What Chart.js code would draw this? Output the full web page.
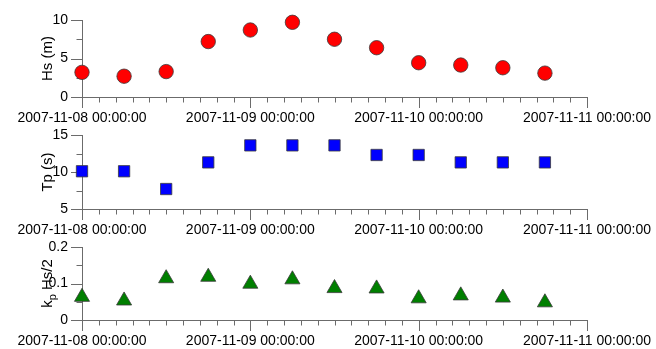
<!DOCTYPE html>
<html>
<head>
<meta charset="utf-8">
<script src="https://cdn.jsdelivr.net/npm/chart.js@4/dist/chart.umd.min.js"></script>
<style>
  html, body { margin: 0; padding: 0; background: #ffffff; }
  #wrap { position: relative; width: 656px; height: 349px; }
  #wrap canvas { position: absolute; left: 0; top: 0; }
</style>
</head>
<body>
<div id="wrap">
  <canvas id="cHs" width="656" height="349"></canvas>
  <canvas id="cTp" width="656" height="349"></canvas>
  <canvas id="cKp" width="656" height="349"></canvas>
</div>
<script>
// Six-hourly sea-state record, 8-10 November 2007
const times = [
  '2007-11-08 00:00:00', '2007-11-08 06:00:00', '2007-11-08 12:00:00', '2007-11-08 18:00:00',
  '2007-11-09 00:00:00', '2007-11-09 06:00:00', '2007-11-09 12:00:00', '2007-11-09 18:00:00',
  '2007-11-10 00:00:00', '2007-11-10 06:00:00', '2007-11-10 12:00:00', '2007-11-10 18:00:00'
];
const hsValues = [3.2, 2.7, 3.3, 7.2, 8.7, 9.7, 7.5, 6.4, 4.45, 4.15, 3.8, 3.1];
const tpValues = [10.1, 10.1, 7.7, 11.3, 13.6, 13.6, 13.6, 12.3, 12.3, 11.3, 11.3, 11.3];
const steepValues = [0.063, 0.053, 0.114, 0.118, 0.099, 0.111, 0.087, 0.086, 0.059, 0.067, 0.061, 0.048];
const dayLabels = ['2007-11-08 00:00:00', '2007-11-09 00:00:00', '2007-11-10 00:00:00', '2007-11-11 00:00:00'];
const hsTicks = ['0', '5', '10'];
const tpTicks = ['5', '10', '15'];
const steepTicks = ['0', '0.1', '0.2'];

const FONT = 'Liberation Sans, Arial, Helvetica, sans-serif';
const AXIS_COLOR = '#6b6b6b';
const t0 = Date.parse(times[0].replace(' ', 'T') + 'Z');
const dayOffset = s => (Date.parse(s.replace(' ', 'T') + 'Z') - t0) / 86400000;
const near = (a, b) => Math.abs(a - b) < 1e-6;

// Tick marks drawn outside the plot, long at labelled ticks and short otherwise
const outerTicks = {
  id: 'outerTicks',
  beforeDatasetsDraw(chart) {
    const ctx = chart.ctx;
    ctx.save();
    ctx.strokeStyle = AXIS_COLOR;
    ctx.lineWidth = 1;
    ['x', 'y'].forEach(id => {
      const sc = chart.scales[id];
      sc.ticks.forEach(t => {
        const major = t.label !== '' && t.label !== undefined;
        const len = major ? 11 : 5.5;
        const p = Math.round(sc.getPixelForValue(t.value)) + 0.5;
        ctx.beginPath();
        if (id === 'x') {
          const y = Math.round(sc.top);
          ctx.moveTo(p, y); ctx.lineTo(p, y + len);
        } else {
          const x = Math.round(sc.right);
          ctx.moveTo(x, p); ctx.lineTo(x - len, p);
        }
        ctx.stroke();
      });
    });
    ctx.restore();
  }
};

// Rotated axis title, with optional subscript part
const yTitle = {
  id: 'yTitle',
  afterDraw(chart, args, opts) {
    const ctx = chart.ctx;
    const a = chart.chartArea;
    ctx.save();
    ctx.translate(opts.x, (a.top + a.bottom) / 2);
    ctx.rotate(-Math.PI / 2);
    ctx.fillStyle = '#000';
    ctx.textBaseline = 'middle';
    const big = '15px ' + FONT, small = '11px ' + FONT;
    const parts = opts.parts;
    let total = 0;
    parts.forEach(p => { ctx.font = p.sub ? small : big; p.w = ctx.measureText(p.text).width; total += p.w; });
    let x = -total / 2;
    parts.forEach(p => {
      ctx.font = p.sub ? small : big;
      ctx.textAlign = 'left';
      ctx.fillText(p.text, x, p.sub ? 5 : 0);
      x += p.w;
    });
    ctx.restore();
  }
};

function makePanel(canvasId, values, yMin, yMax, yLabels, top, bottom, point, titleParts) {
  const xs = times.map(dayOffset);
  const step = (yMax - yMin) / 4;
  new Chart(document.getElementById(canvasId), {
    type: 'scatter',
    data: {
      datasets: [{
        data: xs.map((x, i) => ({ x, y: values[i] })),
        pointStyle: point.style,
        pointRadius: point.radius,
        pointHoverRadius: point.radius,
        backgroundColor: point.color,
        borderColor: '#3a3a3a',
        borderWidth: 0.8,
        clip: false
      }]
    },
    options: {
      responsive: false,
      animation: false,
      events: [],
      layout: { padding: { left: 0, right: 69, top: top, bottom: 349 - bottom - 40 } },
      plugins: {
        legend: { display: false },
        tooltip: { enabled: false },
        yTitle: { x: 48, parts: titleParts }
      },
      scales: {
        x: {
          type: 'linear',
          min: 0, max: 3,
          afterFit: s => { s.height = 40; s.paddingLeft = 0; s.paddingRight = 0; },
          grid: { display: false, drawTicks: false },
          border: { display: true, color: AXIS_COLOR, width: 1 },
          ticks: {
            stepSize: 0.1,
            autoSkip: false,
            maxRotation: 0, minRotation: 0,
            padding: 13,
            color: '#000',
            font: { family: FONT, size: 14 },
            callback: v => (near(v, Math.round(v)) ? dayLabels[Math.round(v)] : '')
          }
        },
        y: {
          min: yMin, max: yMax,
          afterFit: s => { s.width = 82; s.paddingTop = 0; s.paddingBottom = 0; },
          grid: { display: false, drawTicks: false },
          border: { display: true, color: AXIS_COLOR, width: 1 },
          ticks: {
            stepSize: step,
            autoSkip: false,
            padding: 14,
            color: '#000',
            font: { family: FONT, size: 14 },
            callback: v => {
              const k = (v - yMin) / (2 * step);
              return near(k, Math.round(k)) ? yLabels[Math.round(k)] : '';
            }
          }
        }
      }
    },
    plugins: [outerTicks, yTitle]
  });
}

makePanel('cHs', hsValues, 0, 10, hsTicks, 20, 97,
  { style: 'circle', radius: 7.2, color: '#ff0000' }, [{ text: 'Hs (m)' }]);
makePanel('cTp', tpValues, 5, 15, tpTicks, 135, 209,
  { style: 'rect', radius: 8, color: '#0000ff' }, [{ text: 'Tp (s)' }]);
makePanel('cKp', steepValues, 0, 0.2, steepTicks, 247, 320,
  { style: 'triangle', radius: 8.7, color: '#007f00' }, [{ text: 'k' }, { text: 'p', sub: true }, { text: ' Hs/2' }]);
</script>
</body>
</html>
